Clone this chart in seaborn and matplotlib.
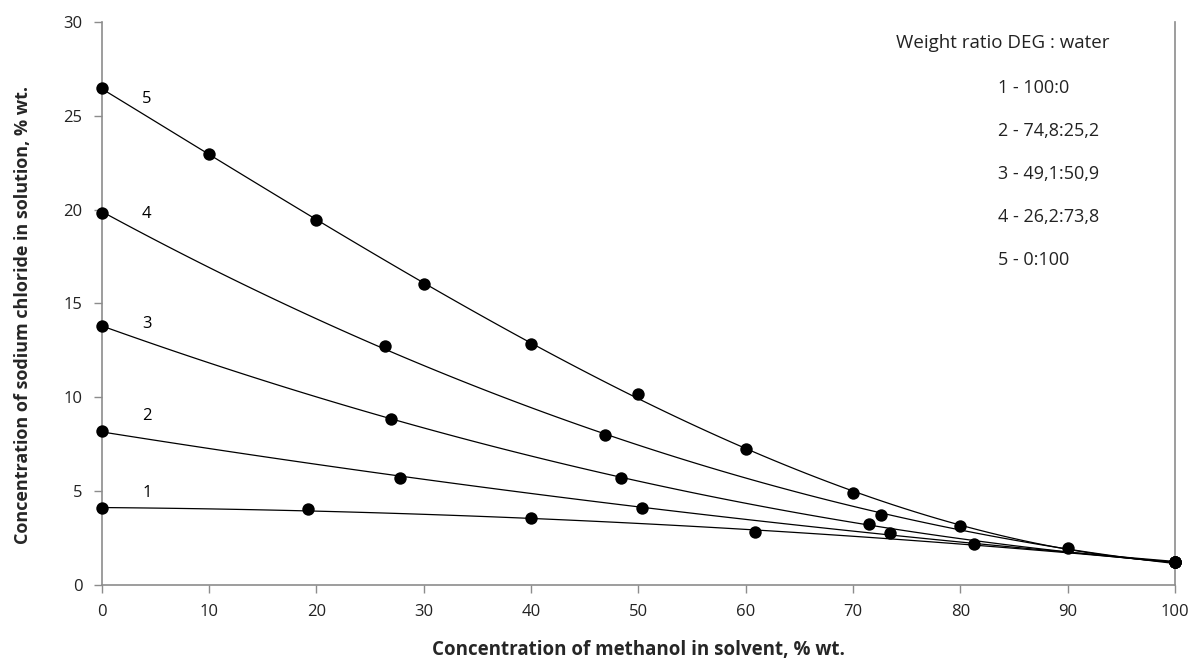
import numpy as np
import pandas as pd
import matplotlib
matplotlib.use("Agg")
import matplotlib.pyplot as plt
import seaborn as sns

# Datos (metanol % vs NaCl %)
x1 = [0, 19.2, 40.0, 60.9, 81.3, 100]
y1 = [4.08, 4.03, 3.55, 2.84, 2.17, 1.20]

x2 = [0, 27.8, 50.3, 73.4, 100]
y2 = [8.20, 5.71, 4.12, 2.79, 1.20]

x3 = [0, 27.0, 48.4, 71.5, 100]
y3 = [13.81, 8.84, 5.71, 3.23, 1.20]

x4 = [0, 26.4, 46.9, 72.6, 100]
y4 = [19.82, 12.74, 7.99, 3.73, 1.20]

x5 = [0, 10, 20, 30, 40, 50, 60, 70, 80, 90, 100]
y5 = [26.45, 22.95, 19.44, 16.03, 12.83, 10.17, 7.24, 4.90, 3.14, 1.97, 1.20]

series_ids = ["1", "2", "3", "4", "5"]
ratios = ["100:0", "74,8:25,2", "49,1:50,9", "26,2:73,8", "0:100"]
fit_order = [2, 2, 2, 2, 3]
label_y = [4.9, 9.0, 13.9, 19.75, 25.9]

xs = [x1, x2, x3, x4, x5]
ys = [y1, y2, y3, y4, y5]

sns.set_style("white")
plt.rcParams['font.family'] = ['Open Sans', 'DejaVu Sans']

fig = plt.figure(figsize=(11.95, 6.61), dpi=100)
ax = fig.add_axes([0.0851, 0.115, 0.8982, 0.852])

for sid, xv, yv, ly, order in zip(series_ids, xs, ys, label_y, fit_order):
    df = pd.DataFrame({'x': xv, 'y': yv})
    sns.regplot(data=df, x='x', y='y', order=order, ci=None, ax=ax, truncate=True,
                scatter_kws={'s': 80, 'color': 'black', 'alpha': 1, 'clip_on': False,
                             'zorder': 3, 'linewidths': 0},
                line_kws={'color': 'black', 'lw': 0.9})
    ax.text(4.2, ly, sid, fontsize=12, ha='center', va='center', color='black')

ax.set_xlim(0, 100)
ax.set_ylim(0, 30)
ax.set_xticks(range(0, 101, 10))
ax.set_yticks(range(0, 31, 5))

for side in ['left', 'bottom', 'right']:
    ax.spines[side].set_visible(True)
    ax.spines[side].set_color('#8c8c8c')
    ax.spines[side].set_linewidth(1.2)
ax.spines['top'].set_visible(False)
ax.tick_params(axis='both', direction='out', length=6, width=1, color='#8c8c8c',
               labelsize=12, labelcolor='#222222', pad=8)
ax.tick_params(axis='y', left=True, right=False)
ax.tick_params(axis='x', bottom=True)

ax.set_xlabel('Concentration of methanol in solvent, % wt.', fontsize=13.5,
              fontweight='bold', labelpad=14)
ax.set_ylabel('Concentration of sodium chloride in solution, % wt.', fontsize=13,
              fontweight='bold')
ax.yaxis.set_label_coords(-0.065, 0.48)

# Leyenda como texto
fig.text(0.8393, 0.935, 'Weight ratio DEG : water', fontsize=13.5, ha='center',
         va='center', color='#222222')
for i, (sid, r) in enumerate(zip(series_ids, ratios)):
    fig.text(0.835, 0.867 - i * 0.065, f'{sid} - {r}', fontsize=13, ha='left',
             va='center', color='#222222')

fig.savefig('out.png', dpi=100)
